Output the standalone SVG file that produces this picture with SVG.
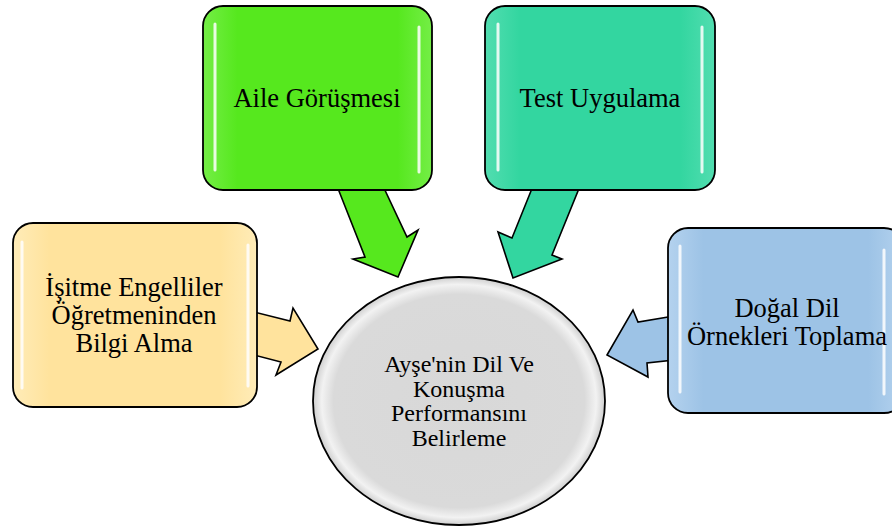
<svg xmlns="http://www.w3.org/2000/svg" width="892" height="528" viewBox="0 0 892 528">
<defs>
<radialGradient id="gCircle" cx="50%" cy="50%" r="50%">
<stop offset="0" stop-color="#d8d8d8"/>
<stop offset="0.86" stop-color="#dadada"/>
<stop offset="0.94" stop-color="#f2f2f2"/>
<stop offset="1" stop-color="#cfcfcf"/>
</radialGradient>
<linearGradient id="gYel" x1="0" y1="0" x2="1" y2="0">
<stop offset="0" stop-color="#ffecb8"/><stop offset="0.15" stop-color="#ffe39d"/><stop offset="0.85" stop-color="#ffe39d"/><stop offset="1" stop-color="#ffecb8"/>
</linearGradient>
<linearGradient id="gGrn" x1="0" y1="0" x2="1" y2="0">
<stop offset="0" stop-color="#74ee46"/><stop offset="0.15" stop-color="#56e81e"/><stop offset="0.85" stop-color="#56e81e"/><stop offset="1" stop-color="#74ee46"/>
</linearGradient>
<linearGradient id="gTea" x1="0" y1="0" x2="1" y2="0">
<stop offset="0" stop-color="#52ddb0"/><stop offset="0.15" stop-color="#33d6a0"/><stop offset="0.85" stop-color="#33d6a0"/><stop offset="1" stop-color="#52ddb0"/>
</linearGradient>
<linearGradient id="gBlu" x1="0" y1="0" x2="1" y2="0">
<stop offset="0" stop-color="#b4d2ee"/><stop offset="0.15" stop-color="#9dc3e6"/><stop offset="0.85" stop-color="#9dc3e6"/><stop offset="1" stop-color="#b4d2ee"/>
</linearGradient>
</defs>
<style>
.box{stroke:#000;stroke-width:1.8}
.arr{stroke:#000;stroke-width:1.6;stroke-linejoin:miter}
.hl{stroke:#fff;stroke-width:3;stroke-linecap:round;opacity:0.85}
.t{font-family:"Liberation Serif","Times New Roman",serif;font-size:26.5px;fill:#000;text-anchor:middle}
.tc{font-family:"Liberation Serif","Times New Roman",serif;font-size:24px;fill:#000;text-anchor:middle}
</style>
<rect width="892" height="528" fill="#fff"/>
<g id="connectors">
<polygon class="arr" fill="#ffe39d" points="250,311 290,321 293,308 318,349 276,375 281,362 250,354"/>
<polygon class="arr" fill="#56e81e" points="337,186 365,257 353,259 398,277 418,230 407,237 383,186"/>
<polygon class="arr" fill="#33d6a0" points="533,186 512,238 498,232 513,278 562,259 552,255 580,186"/>
<polygon class="arr" fill="#9dc3e6" points="674,316 638,322 633,310 607,355 648,377 647,363 674,360"/>
</g>
<g id="node-center">
<ellipse cx="459" cy="401" rx="146" ry="124" fill="url(#gCircle)" stroke="#000" stroke-width="1.8"/>
<text class="tc" x="459" y="372">Ayşe'nin Dil Ve</text>
<text class="tc" x="459" y="396.5">Konuşma</text>
<text class="tc" x="459" y="421">Performansını</text>
<text class="tc" x="459" y="445.5">Belirleme</text>
</g>
<g id="node-isitme">
<rect class="box" x="13" y="223" width="244" height="184" rx="20" fill="url(#gYel)"/>
<line class="hl" x1="22" y1="242" x2="22" y2="388"/>
<line class="hl" x1="248" y1="245" x2="248" y2="386"/>
<text class="t" x="134" y="296">İşitme Engelliler</text>
<text class="t" x="134" y="324">Öğretmeninden</text>
<text class="t" x="134" y="352">Bilgi Alma</text>
</g>
<g id="node-aile">
<rect class="box" x="203" y="6" width="229" height="184" rx="20" fill="url(#gGrn)"/>
<line class="hl" x1="215" y1="24" x2="215" y2="170"/>
<line class="hl" x1="419" y1="27" x2="419" y2="172"/>
<text class="t" x="317" y="107">Aile Görüşmesi</text>
</g>
<g id="node-test">
<rect class="box" x="485" y="6" width="230" height="184" rx="20" fill="url(#gTea)"/>
<line class="hl" x1="498" y1="24" x2="498" y2="170"/>
<line class="hl" x1="702" y1="27" x2="702" y2="172"/>
<text class="t" x="600" y="107">Test Uygulama</text>
</g>
<g id="node-dogal">
<rect class="box" x="668" y="228" width="236" height="185" rx="20" fill="url(#gBlu)"/>
<line class="hl" x1="680" y1="246" x2="680" y2="392"/>
<line class="hl" x1="884" y1="250" x2="884" y2="394"/>
<text class="t" x="787" y="317">Doğal Dil</text>
<text class="t" x="787" y="345">Örnekleri Toplama</text>
</g>
</svg>
